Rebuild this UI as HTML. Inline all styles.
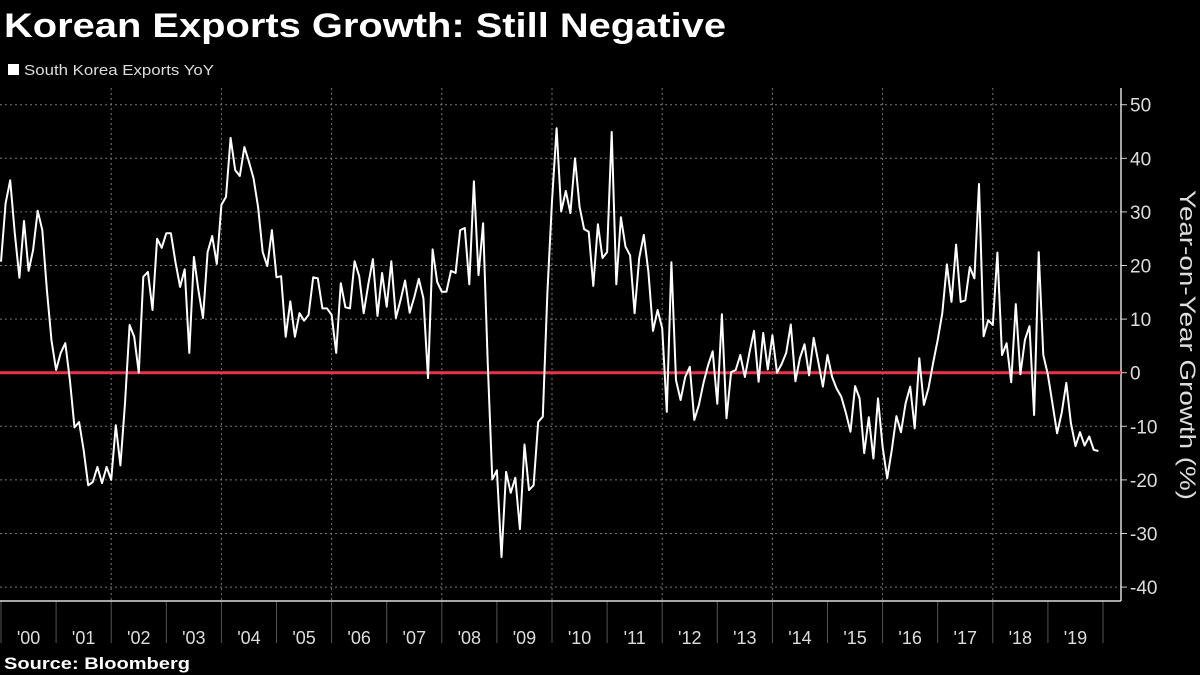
<!DOCTYPE html>
<html><head><meta charset="utf-8"><style>
html,body{margin:0;padding:0;background:#000;width:1200px;height:675px;overflow:hidden;font-family:"Liberation Sans",sans-serif;}
svg{display:block}
</style></head><body>
<svg id="chart" width="1200" height="675" xmlns="http://www.w3.org/2000/svg">
<rect width="1200" height="675" fill="#000"/>
<text x="4" y="37" fill="#fff" font-size="34" font-weight="bold" textLength="722" lengthAdjust="spacingAndGlyphs" font-family="Liberation Sans, sans-serif">Korean Exports Growth: Still Negative</text>
<rect x="8" y="64" width="11" height="11" fill="#fff"/>
<text x="24" y="75" fill="#ddd" font-size="15" textLength="190" lengthAdjust="spacingAndGlyphs">South Korea Exports YoY</text>
<g id="grid"></g>
<g id="axes"></g>
<g id="series"></g>
<text transform="translate(1180,345) rotate(90)" text-anchor="middle" fill="#ddd" font-size="22" textLength="310" lengthAdjust="spacingAndGlyphs">Year-on-Year Growth (%)</text>
<text x="4" y="669" fill="#fff" font-size="17" font-weight="bold" textLength="186" lengthAdjust="spacingAndGlyphs">Source: Bloomberg</text>
</svg>
<script>
const yearLabels = ["'00","'01","'02","'03","'04","'05","'06","'07","'08","'09","'10","'11","'12","'13","'14","'15","'16","'17","'18","'19"];
const yTicks = [50,40,30,20,10,0,-10,-20,-30,-40];
const exportsYoY = [20.7,31.6,35.9,26,17.7,28.3,19,22.9,30.2,26.6,15.4,6,0.5,3.7,5.5,-1.4,-10.2,-9.2,-14.5,-21,-20.4,-17.6,-20.6,-17.6,-20,-9.8,-17.3,-5.7,8.9,6.7,0,17.9,18.8,11.7,25,23.3,26,26,20.6,16,19.3,3.7,21.6,15.4,10.2,22.5,25.5,20.3,31.3,32.8,43.8,37.8,36.7,42.1,39.3,36.3,30.9,22.5,19.9,26.6,17.8,18,
6.7,13.3,6.7,11.1,9.7,10.8,17.8,17.6,12,12,10.8,3.7,16.7,12.2,12,20.8,18,11.1,16.5,21.2,10.6,18.6,12.3,20.8,10.2,13.5,17.2,11.2,14.1,17.5,13.9,-1,23,16.9,15.1,15.1,19,18.6,26.6,27,16.5,35.7,18.2,27.9,2,-19.9,-18.2,-34.4,-18.5,-22.4,-19.6,-29.2,-13.4,-21.9,-21,-9.2,-8.2,15,32,
45.6,30.1,33.9,29.8,40,30.9,26.8,26.3,16.2,27.7,21.4,22.5,44.9,16.5,29,23.5,21.9,11.1,21.4,25.7,18.8,7.8,11.7,8.3,-7.3,20.6,-1.4,-5.1,-0.8,1.1,-8.8,-6,-1.9,1.4,4,-5.8,10.9,-8.5,0.1,0.5,3.3,-0.8,3.7,7.8,-1.7,7.4,0.6,7,0,1.6,3.7,9,-1.6,2.7,5.3,-0.5,6.5,
2,-2.6,3.3,-0.8,-3,-4.5,-7.5,-11,-2.5,-4.8,-15,-8.3,-16,-4.8,-13.8,-19.7,-14.4,-8.1,-11.1,-5.7,-2.6,-10.4,2.7,-6,-2.9,1.8,6.1,11.1,20.2,13.2,23.9,13.2,13.5,19.7,17.6,35.2,6.8,9.8,8.9,22.4,3.3,5.5,-1.8,12.8,-0.3,6.1,8.7,-7.9,22.5,3.3,-0.4,-5.8,-11.3,-7.5,-1.9,-9.4,-13.7,-11.1,-13.6,-11.9,-14.4,-14.6];

const NS="http://www.w3.org/2000/svg";
const PL=1, YW=55.1, PR=1121, PT=88, PB=601;
function xScale(i){return PL + i*YW/12;}
function yScale(v){return 372.7 - v*5.36;}
function mk(tag,attrs,parent){const e=document.createElementNS(NS,tag);for(const k in attrs)e.setAttribute(k,attrs[k]);parent.appendChild(e);return e;}
const grid=document.getElementById('grid'), axes=document.getElementById('axes'), series=document.getElementById('series');

yTicks.forEach(t=>{
  const y=yScale(t);
  if(t!==0){
    const l=mk('line',{x1:0,x2:PR,y1:y,y2:y,stroke:'#777','stroke-width':1,'stroke-dasharray':'2,3'},grid);
    
    
  }
  const tk=mk('line',{x1:PR,x2:PR+6,y1:y,y2:y,stroke:'#ccc','stroke-width':1},axes);
  
  
  const tx=mk('text',{x:PR+9,y:y+7,fill:'#ddd','font-size':19},axes);
  
  
  tx.textContent=(t<0?'-'+Math.abs(t):String(t));
});
for(let k=0;k<=yearLabels.length;k++){
  const x=xScale(k*12);
  if(k%2===0 && k>0 && k<yearLabels.length){
    const g=mk('line',{x1:x,x2:x,y1:PT,y2:PB,stroke:'#777','stroke-width':1,'stroke-dasharray':'2,3'},grid);
    
    
  }
  const s=mk('line',{x1:x,x2:x,y1:PB,y2:643,stroke:'#555','stroke-width':1},axes);
  
  
}
yearLabels.forEach((lab,k)=>{
  const t=mk('text',{x:xScale(k*12+6),y:644,fill:'#ddd','font-size':18,'text-anchor':'middle'},axes);
  
  
  t.textContent=lab;
});
const ax1=mk('line',{x1:0,x2:PR,y1:PB,y2:PB,stroke:'#ddd','stroke-width':1.5},axes);


const ax2=mk('line',{x1:PR,x2:PR,y1:PT,y2:PB,stroke:'#ddd','stroke-width':1.5},axes);


const zl=mk('line',{x1:0,x2:PR,y1:yScale(0),y2:yScale(0),stroke:'#e8334a','stroke-width':3},series);


const pts=exportsYoY.map((v,i)=>xScale(i).toFixed(1)+','+yScale(v).toFixed(1)).join(' ');
const pl=mk('polyline',{points:pts,fill:'none',stroke:'#fff','stroke-width':2,'stroke-linejoin':'round'},series);


</script>
</body></html>
